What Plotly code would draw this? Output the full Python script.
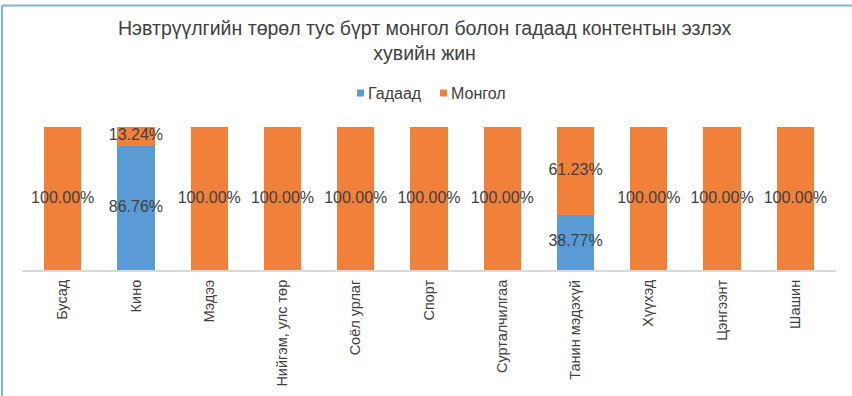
import plotly.graph_objects as go

# Broadcast genres and the share of foreign vs Mongolian content
categories = ["Бусад", "Кино", "Мэдээ", "Нийгэм, улс төр", "Соёл урлаг", "Спорт",
              "Сурталчилгаа", "Танин мэдэхүй", "Хүүхэд", "Цэнгээнт", "Шашин"]
foreign = [0.0, 0.8676, 0.0, 0.0, 0.0, 0.0, 0.0, 0.3877, 0.0, 0.0, 0.0]
mongolian = [1.0, 0.1324, 1.0, 1.0, 1.0, 1.0, 1.0, 0.6123, 1.0, 1.0, 1.0]
series = [("Гадаад", foreign), ("Монгол", mongolian)]

BLUE = "#5B9BD5"
ORANGE = "#F1803A"
COLORS = [BLUE, ORANGE]
TEXT = "#404040"
FONT = "Liberation Sans, Arial, sans-serif"

fig = go.Figure()
for (name, vals), col in zip(series, COLORS):
    fig.add_trace(go.Bar(name=name, x=categories, y=vals, marker_color=col,
                         marker_line_width=0, showlegend=False))

# Data labels centred in each non-empty segment
lx, ly, lt = [], [], []
for c, f, m in zip(categories, foreign, mongolian):
    if f > 0:
        lx.append(c); ly.append(f / 2); lt.append(f"{f * 100:.2f}%")
    if m > 0:
        lx.append(c); ly.append(f + m / 2); lt.append(f"{m * 100:.2f}%")
fig.add_trace(go.Scatter(x=lx, y=ly, text=lt, mode="text", showlegend=False,
                         textfont=dict(size=16, color=TEXT, family=FONT),
                         hoverinfo="skip"))

# Pixel helpers for placing paper-referenced items
W, L, R, T, B, H = 852, 22, 16, 127, 126, 396
pw, ph = W - L - R, H - T - B
def px(x): return (x - L) / pw
def py(y): return (H - B - y) / ph

# Thin chart-frame border along the top and left edges
border = dict(color="#7FB2E2", width=2)
fig.add_shape(type="line", xref="paper", yref="paper", x0=px(2), x1=px(W + 5),
              y0=py(5.5), y1=py(5.5), line=border)
fig.add_shape(type="line", xref="paper", yref="paper", x0=px(2), x1=px(2),
              y0=py(5.5), y1=py(H + 5), line=border)

# Title
fig.add_annotation(text="Нэвтрүүлгийн төрөл тус бүрт монгол болон гадаад контентын эзлэх<br>хувийн жин",
                   xref="paper", yref="paper", x=px(W / 2 - 2), y=py(41), xanchor="center",
                   yanchor="middle", showarrow=False,
                   font=dict(size=19.5, color=TEXT, family=FONT))

# Compact legend: small square followed by the series name
legend_pos = [357, 440]
for (name, _), col, x0 in zip(series, COLORS, legend_pos):
    fig.add_shape(type="rect", xref="paper", yref="paper", x0=px(x0), x1=px(x0 + 7),
                  y0=py(96.5), y1=py(89.5), fillcolor=col, line_width=0)
    fig.add_annotation(text=name, xref="paper", yref="paper", x=px(x0 + 9), y=py(93),
                       xanchor="left", yanchor="middle", showarrow=False,
                       font=dict(size=16, color=TEXT, family=FONT))

fig.update_layout(
    barmode="stack",
    bargap=0.49,
    width=W, height=H,
    margin=dict(l=L, r=R, t=T, b=B, autoexpand=False),
    paper_bgcolor="white", plot_bgcolor="white",
    font=dict(family=FONT, color=TEXT),
    showlegend=False,
    xaxis=dict(showline=True, linecolor="#D9D9D9", linewidth=2, ticks="",
               automargin=False, ticklabelstandoff=2,
               tickangle=-90, tickfont=dict(size=14.5, color=TEXT, family=FONT)),
    yaxis=dict(range=[0, 1], visible=False, showgrid=False, automargin=False),
)

fig.write_html("out.html")
